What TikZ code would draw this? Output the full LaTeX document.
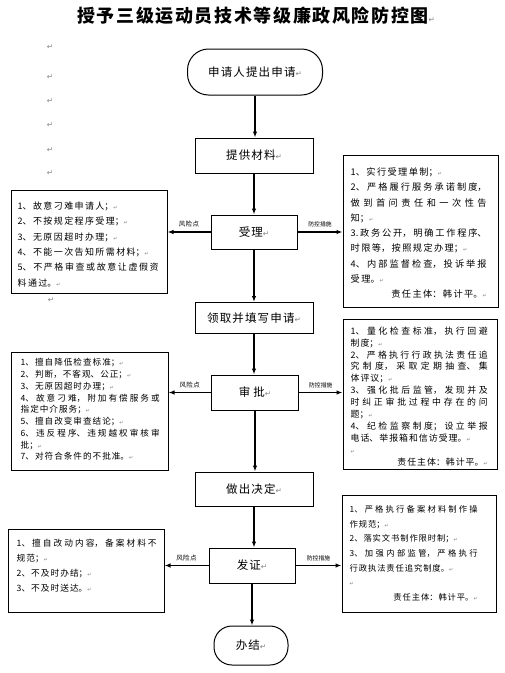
\documentclass[tikz,border=0pt]{standalone}
\usepackage{fontspec}
\setmainfont{Noto Sans CJK SC}
\newfontfamily\cjk{Noto Sans CJK SC}
\newfontfamily\cjkL[LetterSpace=10]{Noto Sans CJK SC}
\newfontfamily\cjkS[LetterSpace=6]{Noto Sans CJK SC}
\newfontfamily\cjkT[LetterSpace=9]{Noto Sans CJK SC}
\newfontfamily\dejavu{DejaVu Sans}
\usetikzlibrary{arrows.meta}
\XeTeXlinebreaklocale "zh"
\XeTeXlinebreakskip=0pt plus 2pt
\newcommand\pmk{{\dejavu\fontsize{5}{5}\selectfont\textcolor{gray}{↵}}}
\newcommand\bigpmk{{\dejavu\fontsize{7.5}{8}\selectfont\textcolor{gray}{↵}}}
\newcommand\cjkfont[3]{\cjk\fontsize{#1}{#2}\selectfont\XeTeXlinebreakskip=#3 plus 3pt\relax}
\begin{document}
\begin{tikzpicture}[x=1pt,y=-1pt,
  flow/.style={draw, line width=1pt, inner sep=0pt, font=\cjkL\fontsize{11.5}{12}\selectfont},
  term/.style={flow, rounded corners=21pt},
  risk/.style={draw, line width=1pt, inner sep=0pt},
  txt/.style={anchor=north west, inner sep=0pt, align=justify,
    execute at begin node={\setlength\parindent{0pt}\setlength\parskip{0pt}}},
  arr/.style={line width=1.3pt, -{Latex[length=6pt,width=4.5pt]}},
  labl/.style={font=\cjkS\fontsize{6.5}{7}\selectfont, inner sep=1pt, above=3pt},
  labr/.style={font=\cjk\fontsize{5.8}{7}\selectfont, inner sep=1pt, above=3pt},
  pm/.style={inner sep=0pt}
]
\fill[white] (0,0) rectangle (505,673);
\useasboundingbox (0,0) rectangle (505,673);

% title
\node[anchor=west, inner sep=0pt] (title) at (77,16)
  {{\cjkT\bfseries\fontsize{18}{20}\selectfont 授予三级运动员技术等级廉政风险防控图}\bigpmk};

% margin paragraph marks
\node[pm] (m1) at (50,47) {\bigpmk};
\node[pm] (m2) at (50,77) {\bigpmk};
\node[pm] (m3) at (50,101) {\bigpmk};
\node[pm] (m4) at (50,125) {\bigpmk};
\node[pm] (m5) at (50,150) {\bigpmk};
\node[pm] (m6) at (50,173) {\bigpmk};
\node[pm] (m7) at (51,300) {\bigpmk};

% main flow
\node[term, minimum width=135pt, minimum height=46pt] (start) at (255,72) {申请人提出申请\bigpmk};
\node[flow, minimum width=118pt, minimum height=35pt] (tigong) at (254,155.5) {提供材料\bigpmk};
\node[flow, minimum width=86pt, minimum height=34pt] (shouli) at (254,232) {受理\bigpmk};
\node[flow, minimum width=118pt, minimum height=31pt] (lingqu) at (254,318) {领取并填写申请\bigpmk};
\node[flow, minimum width=87pt, minimum height=35pt] (shenpi) at (255,392.5) {审\hspace{3pt}批\bigpmk};
\node[flow, minimum width=118pt, minimum height=34pt] (zuochu) at (254,489) {做出决定\bigpmk};
\node[flow, minimum width=86pt, minimum height=35pt] (fazheng) at (252,565.5) {发证\bigpmk};
\node[term, rounded corners=18pt, minimum width=74pt, minimum height=39pt] (banjie) at (251,645.5) {办结\bigpmk};

\draw[arr] (start.south) -- (start.south |- tigong.north);
\draw[arr] (tigong.south) -- (tigong.south |- shouli.north);
\draw[arr] (shouli.south) -- (shouli.south |- lingqu.north);
\draw[arr] (lingqu.south) -- (lingqu.south |- shenpi.north);
\draw[arr] (shenpi.south) -- (shenpi.south |- zuochu.north);
\draw[arr] (zuochu.south) -- (zuochu.south |- fazheng.north);
\draw[arr] (fazheng.south) -- (fazheng.south |- banjie.north);

% side boxes
\node[risk, minimum width=156pt, minimum height=103pt] (L1) at (89,241.5) {};
\node[risk, minimum width=157pt, minimum height=118pt] (L2) at (89.5,411) {};
\node[risk, minimum width=156pt, minimum height=83pt] (L3) at (86,570.5) {};
\node[risk, minimum width=155pt, minimum height=152pt] (R1) at (420.5,231) {};
\node[risk, minimum width=154pt, minimum height=150pt] (R2) at (420,394) {};
\node[risk, minimum width=154pt, minimum height=117pt] (R3) at (419,553.5) {};

\node[txt, text width=141pt, font=\cjkfont{9}{15.4}{1.4pt}] (L1t) at ([shift={(7,12)}]L1.north west)
{1、故意刁难申请人；\pmk\par
2、不按规定程序受理；\pmk\par
3、无原因超时办理；\pmk\par
4、不能一次告知所需材料；\pmk\par
5、不严格审查或故意让虚假资\linebreak 料通过。\pmk};

\node[txt, text width=139pt, font=\cjkfont{8.6}{11.75}{1pt}] (L2t) at ([shift={(10,7)}]L2.north west)
{1、擅自降低检查标准；\pmk\par
2、判断，不客观、公正；\pmk\par
3、无原因超时办理；\pmk\par
4、故意刁难，附加有偿服务或\linebreak 指定中介服务；\pmk\par
5、擅自改变审查结论；\pmk\par
6、违反程序、违规越权审核审\linebreak 批；\pmk\par
7、对符合条件的不批准。\pmk};

\node[txt, text width=140pt, font=\cjkfont{8.7}{15}{1pt}] (L3t) at ([shift={(9,10)}]L3.north west)
{1、擅自改动内容，备案材料不\linebreak 规范；\pmk\par
2、不及时办结；\pmk\par
3、不及时送达。\pmk};

\node[txt, text width=136pt, font=\cjkfont{9.2}{15.3}{1.4pt}] (R1t) at ([shift={(8,13)}]R1.north west)
{1、实行受理单制；\pmk\par
2、严格履行服务承诺制度，\linebreak 做到首问责任和一次性告\linebreak 知；\pmk\par
3.政务公开，明确工作程序、\linebreak 时限等，按照规定办理；\pmk\par
4、内部监督检查，投诉举报\linebreak 受理。\pmk\par
\hspace*{\fill}责任主体：韩计平。\pmk};

\node[txt, text width=137pt, font=\cjkfont{8.9}{11.9}{1pt}] (R2t) at ([shift={(8,8)}]R2.north west)
{1、量化检查标准，执行回避\linebreak 制度；\pmk\par
2、严格执行行政执法责任追\linebreak 究制度，采取定期抽查、集\linebreak 体评议；\pmk\par
3、强化批后监管，发现并及\linebreak 时纠正审批过程中存在的问\linebreak 题；\pmk\par
4、纪检监察制度；设立举报\linebreak 电话、举报箱和信访受理。\pmk\par
\pmk\par
\hspace*{\fill}责任主体：韩计平。\pmk};

\node[txt, text width=128pt, font=\cjkfont{8.3}{14.6}{0.9pt}] (R3t) at ([shift={(8,11)}]R3.north west)
{1、严格执行备案材料制作操\linebreak 作规范；\pmk\par
2、落实文书制作限时制；\pmk\par
3、加强内部监管，严格执行\linebreak 行政执法责任追究制度。\pmk\par
\pmk\par
\hspace*{\fill}责任主体：韩计平。\pmk};

% side arrows
\draw[arr] (shouli.west) -- (shouli.west -| L1.east) node[labl, midway] (r1) {风险点};
\draw[arr] (shouli.east) -- (shouli.east -| R1.west) node[labr, midway] (p1) {防控措施};
\draw[arr] (shenpi.west) -- (shenpi.west -| L2.east) node[labl, midway] (r2) {风险点};
\draw[arr] (shenpi.east) -- (shenpi.east -| R2.west) node[labr, midway] (p2) {防控措施};
\draw[arr] (fazheng.west) -- (fazheng.west -| L3.east) node[labl, midway] (r3) {风险点};
\draw[arr] (fazheng.east) -- (fazheng.east -| R3.west) node[labr, midway] (p3) {防控措施};
\end{tikzpicture}
\end{document}
